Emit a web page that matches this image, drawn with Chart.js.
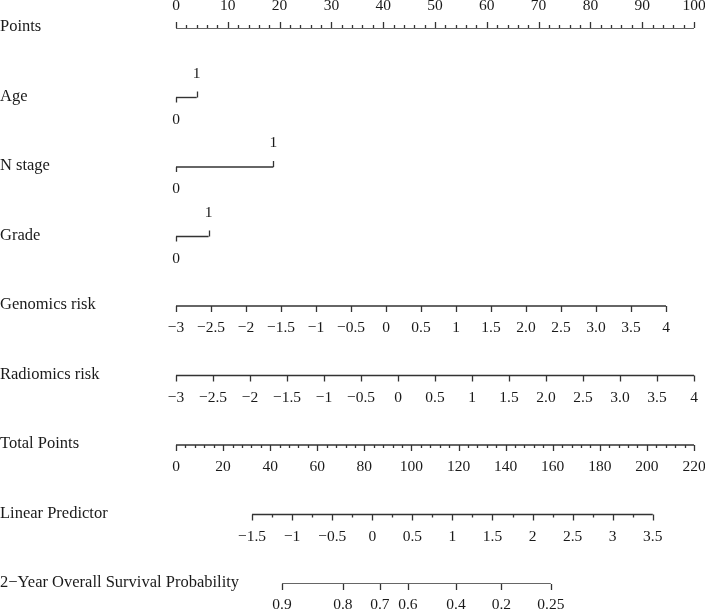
<!DOCTYPE html>
<html>
<head>
<meta charset="utf-8">
<script src="https://cdn.jsdelivr.net/npm/chart.js@4"></script>
<style>
html,body{margin:0;padding:0;background:#fff;}
#c{display:block;}
</style>
</head>
<body>
<canvas id="c" width="705" height="609"></canvas>
<script>
// ---- Data ----
const rowLabels = ['Points','Age','N stage','Grade','Genomics risk','Radiomics risk','Total Points','Linear Predictor','2\u2212Year Overall Survival Probability'];

const pointsTicks = [0,10,20,30,40,50,60,70,80,90,100];

const ageLevels = ['0','1'];
const agePoints = [0, 4.0];
const nStageLevels = ['0','1'];
const nStagePoints = [0, 18.8];
const gradeLevels = ['0','1'];
const gradePoints = [0, 6.3];

const riskValues = [-3,-2.5,-2,-1.5,-1,-0.5,0,0.5,1,1.5,2,2.5,3,3.5,4];
const riskLabels = ['\u22123','\u22122.5','\u22122','\u22121.5','\u22121','\u22120.5','0','0.5','1','1.5','2.0','2.5','3.0','3.5','4'];
const genomicsPointsRange = [0, 94.6];   // points at -3 and 4
const radiomicsPointsRange = [0, 100];  // points at -3 and 4

const totalPointsTicks = [0,20,40,60,80,100,120,140,160,180,200,220];
const totalPointsMax = 220;

const lpValues = [-1.5,-1,-0.5,0,0.5,1,1.5,2,2.5,3,3.5];
const lpLabels = ['\u22121.5','\u22121','\u22120.5','0','0.5','1','1.5','2','2.5','3','3.5'];
const lpTotalPointsRange = [32.3, 202.5]; // total points at -1.5 and 3.5

const survivalLabels = ['0.9','0.8','0.7','0.6','0.4','0.2','0.25'];
const survivalTotalPoints = [45.0, 70.9, 86.6, 98.5, 118.9, 138.2, 159.2];

// ---- helpers ----
const tp2pts = tp => tp * 100 / totalPointsMax;
const riskToPts = (v, r) => r[0] + (v - riskValues[0]) / (riskValues[riskValues.length-1] - riskValues[0]) * (r[1] - r[0]);
const lpToPts = v => tp2pts(lpTotalPointsRange[0] + (v - lpValues[0]) / (lpValues[lpValues.length-1] - lpValues[0]) * (lpTotalPointsRange[1] - lpTotalPointsRange[0]));

const LINE = '#333333';
const mkLine = (row, a, b) => ({
  data: [{x:a, y:row},{x:b, y:row}],
  borderColor: LINE, borderWidth: 1.4, pointRadius: 0, fill: false
});

const datasets = [
  mkLine(0, pointsTicks[0], pointsTicks[pointsTicks.length-1]),
  mkLine(1, agePoints[0], agePoints[1]),
  mkLine(2, nStagePoints[0], nStagePoints[1]),
  mkLine(3, gradePoints[0], gradePoints[1]),
  mkLine(4, genomicsPointsRange[0], genomicsPointsRange[1]),
  mkLine(5, radiomicsPointsRange[0], radiomicsPointsRange[1]),
  mkLine(6, tp2pts(totalPointsTicks[0]), tp2pts(totalPointsTicks[totalPointsTicks.length-1])),
  mkLine(7, lpToPts(lpValues[0]), lpToPts(lpValues[lpValues.length-1])),
  mkLine(8, tp2pts(survivalTotalPoints[0]), tp2pts(survivalTotalPoints[survivalTotalPoints.length-1]))
];

const SERIF = '"Liberation Serif", "DejaVu Serif", serif';

const nomoPlugin = {
  id: 'nomo',
  afterDatasetsDraw(chart) {
    const ctx = chart.ctx;
    const xs = chart.scales.x, ys = chart.scales.y;
    const X = v => xs.getPixelForValue(v);
    const Y = r => ys.getPixelForValue(r);
    ctx.save();
    ctx.strokeStyle = LINE;
    ctx.fillStyle = '#1a1a1a';
    ctx.lineWidth = 1.3;
    const tick = (x, y, len) => { ctx.beginPath(); ctx.moveTo(Math.round(x)+0.5, y); ctx.lineTo(Math.round(x)+0.5, y+len); ctx.stroke(); };
    const label = (t, x, y) => { ctx.fillText(t, x, y); };

    // row labels
    ctx.font = '16.5px ' + SERIF;
    ctx.textAlign = 'left'; ctx.textBaseline = 'middle';
    rowLabels.forEach((t, i) => label(t, 0, Y(i) - 1));

    ctx.font = '15.5px ' + SERIF;
    ctx.textAlign = 'center';

    // Points axis (ticks upward, labels above)
    const y0 = Y(0);
    for (let v = pointsTicks[0]; v <= pointsTicks[pointsTicks.length-1] + 1e-9; v += 2) {
      const major = pointsTicks.includes(Math.round(v));
      tick(X(v), y0, major ? -6 : -3);
    }
    pointsTicks.forEach(v => label(String(v), X(v), y0 - 22));

    // categorical rows
    const cat = (row, levels, pts) => {
      const y = Y(row);
      tick(X(pts[0]), y, 5);
      tick(X(pts[1]), y, -6);
      label(levels[0], X(pts[0]), y + 22);
      label(levels[1], X(pts[1]), y - 24);
    };
    cat(1, ageLevels, agePoints);
    cat(2, nStageLevels, nStagePoints);
    cat(3, gradeLevels, gradePoints);

    // continuous risk rows
    [[4, genomicsPointsRange],[5, radiomicsPointsRange]].forEach(([row, r]) => {
      const y = Y(row);
      riskValues.forEach((v, i) => {
        const x = X(riskToPts(v, r));
        tick(x, y, 6);
        label(riskLabels[i], x, y + 22);
      });
    });

    // total points
    const y6 = Y(6);
    for (let v = 0; v <= totalPointsMax + 1e-9; v += 4) {
      const major = totalPointsTicks.includes(Math.round(v));
      tick(X(tp2pts(v)), y6, major ? 6 : 3);
    }
    totalPointsTicks.forEach(v => label(String(v), X(tp2pts(v)), y6 + 22));

    // linear predictor
    const y7 = Y(7);
    for (let v = lpValues[0]; v <= lpValues[lpValues.length-1] + 1e-9; v += 0.25) {
      const major = Math.abs(v*2 - Math.round(v*2)) < 1e-6;
      tick(X(lpToPts(v)), y7, major ? 6 : 3);
    }
    lpValues.forEach((v, i) => label(lpLabels[i], X(lpToPts(v)), y7 + 22));

    // survival probability
    const y8 = Y(8);
    survivalTotalPoints.forEach((tp, i) => {
      const x = X(tp2pts(tp));
      tick(x, y8, 6);
      label(survivalLabels[i], x, y8 + 21);
    });

    ctx.restore();
  }
};

new Chart(document.getElementById('c'), {
  type: 'line',
  data: { datasets },
  options: {
    responsive: false,
    animation: false,
    devicePixelRatio: 1,
    layout: { padding: { left: 176, right: 11, top: 28, bottom: 25 } },
    plugins: { legend: { display: false }, tooltip: { enabled: false } },
    scales: {
      x: { type: 'linear', min: 0, max: 100, display: false },
      y: { type: 'linear', min: 0, max: 8, reverse: true, display: false }
    }
  },
  plugins: [nomoPlugin]
});
</script>
</body>
</html>
